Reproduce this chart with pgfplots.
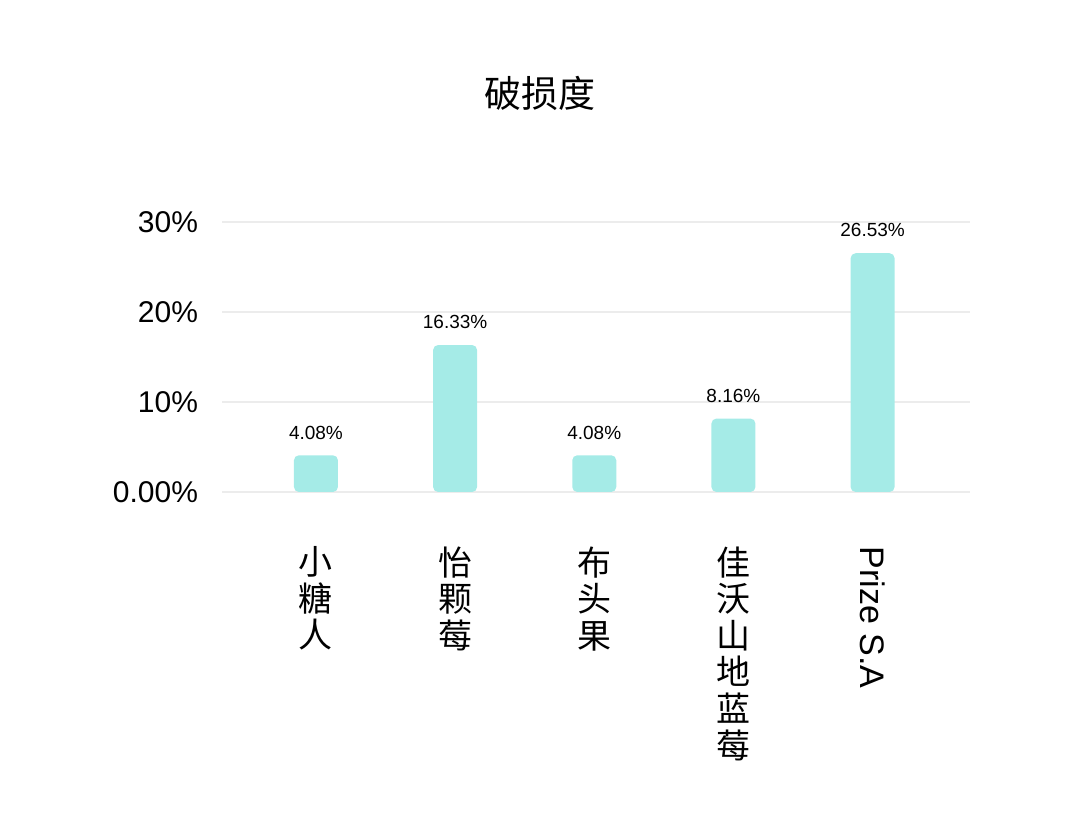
\documentclass[border=0pt]{standalone}
\usepackage{fontspec}
\setmainfont{Liberation Sans}
\newfontfamily\cjk{Noto Sans CJK SC}
\usepackage{graphicx}
\usepackage{pgfplots}
\pgfplotsset{compat=1.18}
\definecolor{barc}{RGB}{165,235,231}
\definecolor{gridc}{RGB}{236,236,236}
\begin{document}
\begin{tikzpicture}[x=1pt,y=1pt]
\useasboundingbox (0,0) rectangle (540,419.5);
\node[font=\cjk\fontsize{18.5}{20}\selectfont] at (270,373) {破损度};
\begin{axis}[
  at={(111pt,173.5pt)}, anchor=south west,
  scale only axis, width=374pt, height=135pt,
  xmin=-0.675, xmax=4.7, ymin=0, ymax=30,
  axis line style={draw=none},
  tick style={draw=none},
  ymajorgrids, grid style={gridc, line width=0.6pt},
  ytick={0,10,20,30},
  yticklabels={\textrm{0.00\%},\textrm{10\%},\textrm{20\%},\textrm{30\%}},
  yticklabel style={font=\fontsize{15}{16}\selectfont, xshift=-8.5pt},
  xtick={0,1,2,3,4},
  xticklabels={{小\\糖\\人},{怡\\颗\\莓},{布\\头\\果},{佳\\沃\\山\\地\\蓝\\莓},{\normalfont\rotatebox{-90}{Prize S.A}}},
  xticklabel style={font=\cjk\fontsize{17}{18.3}\selectfont, align=center, anchor=north, yshift=-19.5pt},
  /pgf/number format/assume math mode=true,
  ybar, bar width=22pt,
  point meta=explicit symbolic,
  nodes near coords={\textrm{\pgfplotspointmeta}},
  nodes near coords style={font=\fontsize{9.5}{10}\selectfont, black, yshift=4.5pt},
  clip=false,
]
\addplot[fill=barc, draw=none, rounded corners=2.5pt] coordinates {
  (0,4.08) [4.08\%]
  (1,16.33) [16.33\%]
  (2,4.08) [4.08\%]
  (3,8.16) [8.16\%]
  (4,26.53) [26.53\%]
};
\end{axis}
\end{tikzpicture}
\end{document}
